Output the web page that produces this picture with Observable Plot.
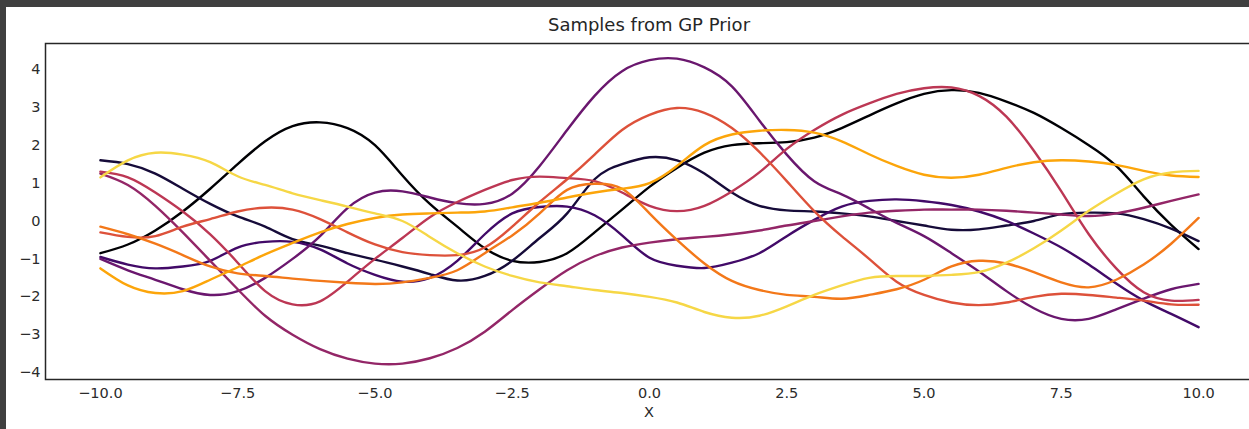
<!DOCTYPE html>
<html>
<head>
<meta charset="utf-8">
<script src="https://cdn.jsdelivr.net/npm/d3@7"></script>
<script src="https://cdn.jsdelivr.net/npm/@observablehq/plot@0.6"></script>
<style>
  html, body { margin: 0; padding: 0; width: 1249px; height: 429px; overflow: hidden; background: #3f3f3f; }
  #panel { position: absolute; left: 6px; top: 7px; width: 1254px; height: 422px; background: #fff; overflow: hidden;
           font-family: "DejaVu Sans", sans-serif; color: #262626; }
  #title { position: absolute; left: 39px; width: 1208px; top: 7px; text-align: center; font-size: 18px; line-height: 22px; }
  #chart { position: absolute; left: 0; top: 30px; }
  #xlabel { position: absolute; left: 39px; width: 1208px; top: 396px; text-align: center; font-size: 14.5px; line-height: 18px; }
</style>
</head>
<body>
<div id="panel">
  <div id="title">Samples from GP Prior</div>
  <div id="chart"></div>
  <div id="xlabel">X</div>
</div>
<script>
// Input grid shared by all prior draws
const xs = [-10, -9.5, -9, -8.5, -8, -7.5, -7, -6.5, -6, -5.5, -5, -4.5, -4, -3.5, -3, -2.5, -2, -1.5, -1, -0.5,
            0, 0.5, 1, 1.5, 2, 2.5, 3, 3.5, 4, 4.5, 5, 5.5, 6, 6.5, 7, 7.5, 8, 8.5, 9, 9.5, 10];

// Ten functions drawn from the GP prior, evaluated on xs
const sample1 = [-0.85, -0.62, -0.25, 0.25, 0.85, 1.5, 2.1, 2.5, 2.6, 2.45, 2.0, 1.2, 0.45, -0.15, -0.72, -1.05, -1.08, -0.85, -0.3, 0.3,
                 0.9, 1.4, 1.8, 2.0, 2.05, 2.08, 2.2, 2.45, 2.78, 3.1, 3.35, 3.45, 3.38, 3.15, 2.85, 2.45, 2.0, 1.45, 0.65, -0.1, -0.74];
const sample2 = [1.6, 1.5, 1.25, 0.85, 0.45, 0.12, -0.15, -0.48, -0.65, -0.85, -1.02, -1.2, -1.4, -1.57, -1.45, -1.05, -0.45, 0.2, 1.1, 1.5,
                 1.68, 1.6, 1.25, 0.75, 0.4, 0.28, 0.25, 0.2, 0.12, 0.0, -0.12, -0.23, -0.22, -0.12, 0.0, 0.18, 0.22, 0.2, 0.05, -0.2, -0.53];
const sample3 = [-0.95, -1.15, -1.25, -1.2, -1.05, -0.7, -0.55, -0.55, -0.75, -1.12, -1.42, -1.6, -1.5, -1.05, -0.35, 0.2, 0.37, 0.38, 0.15, -0.38,
                 -0.97, -1.18, -1.24, -1.1, -0.85, -0.4, 0.03, 0.38, 0.53, 0.57, 0.52, 0.42, 0.25, 0.0, -0.33, -0.7, -1.15, -1.65, -2.1, -2.45, -2.8];
const sample4 = [-1.0, -1.3, -1.55, -1.8, -1.95, -1.85, -1.5, -1.0, -0.4, 0.34, 0.75, 0.78, 0.62, 0.47, 0.45, 0.72, 1.45, 2.4, 3.3, 3.95,
                 4.24, 4.28, 4.05, 3.55, 2.65, 1.75, 1.05, 0.7, 0.33, -0.05, -0.4, -0.85, -1.33, -1.85, -2.3, -2.58, -2.58, -2.33, -2.05, -1.8, -1.66];
const sample5 = [1.25, 0.95, 0.4, -0.3, -1.05, -1.8, -2.5, -3.0, -3.38, -3.63, -3.76, -3.76, -3.62, -3.35, -2.92, -2.35, -1.8, -1.3, -0.93, -0.7,
                 -0.57, -0.48, -0.42, -0.35, -0.25, -0.12, 0.0, 0.12, 0.22, 0.27, 0.3, 0.3, 0.3, 0.27, 0.22, 0.17, 0.13, 0.2, 0.35, 0.53, 0.7];
const sample6 = [1.3, 1.15, 0.75, 0.25, -0.35, -1.1, -1.85, -2.2, -2.12, -1.6, -1.0, -0.45, 0.1, 0.5, 0.82, 1.08, 1.17, 1.13, 1.05, 0.75,
                 0.4, 0.26, 0.4, 0.78, 1.28, 1.9, 2.4, 2.8, 3.1, 3.35, 3.5, 3.52, 3.3, 2.75, 1.85, 0.78, -0.35, -1.25, -1.88, -2.1, -2.08];
const sample7 = [-0.3, -0.42, -0.4, -0.15, 0.05, 0.25, 0.35, 0.3, 0.05, -0.3, -0.62, -0.82, -0.9, -0.9, -0.7, -0.15, 0.5, 1.1, 1.75, 2.4,
                 2.8, 2.98, 2.85, 2.45, 1.82, 1.05, 0.26, -0.4, -1.0, -1.6, -1.95, -2.15, -2.22, -2.15, -2.0, -1.92, -1.95, -2.02, -2.1, -2.2, -2.21];
const sample8 = [-0.15, -0.35, -0.6, -0.9, -1.2, -1.38, -1.45, -1.52, -1.58, -1.63, -1.66, -1.62, -1.5, -1.3, -0.85, -0.38, 0.2, 0.82, 0.98, 0.85,
                 0.2, -0.5, -1.12, -1.58, -1.82, -1.95, -2.0, -2.05, -1.95, -1.8, -1.55, -1.2, -1.05, -1.12, -1.35, -1.62, -1.75, -1.55, -1.15, -0.6, 0.08];
const sample9 = [-1.25, -1.7, -1.9, -1.85, -1.55, -1.22, -0.88, -0.58, -0.3, -0.08, 0.08, 0.17, 0.2, 0.22, 0.25, 0.36, 0.48, 0.62, 0.75, 0.85,
                 1.0, 1.45, 2.0, 2.28, 2.38, 2.4, 2.33, 2.1, 1.76, 1.45, 1.22, 1.14, 1.22, 1.4, 1.55, 1.6, 1.57, 1.48, 1.32, 1.2, 1.16];
const sample10 = [1.15, 1.6, 1.8, 1.75, 1.55, 1.18, 0.95, 0.73, 0.55, 0.38, 0.2, 0.0, -0.42, -0.85, -1.2, -1.45, -1.62, -1.72, -1.82, -1.9,
                  -2.0, -2.15, -2.4, -2.55, -2.5, -2.25, -1.95, -1.7, -1.5, -1.45, -1.45, -1.42, -1.35, -1.1, -0.72, -0.25, 0.27, 0.72, 1.1, 1.28, 1.32];

const sampleNames = ["s1", "s2", "s3", "s4", "s5", "s6", "s7", "s8", "s9", "s10"];
const sampleValues = [sample1, sample2, sample3, sample4, sample5, sample6, sample7, sample8, sample9, sample10];

// Axis ticks and their labels
const xTicks = [-10, -7.5, -5, -2.5, 0, 2.5, 5, 7.5, 10];
const xTickLabels = ["\u221210.0", "\u22127.5", "\u22125.0", "\u22122.5", "0.0", "2.5", "5.0", "7.5", "10.0"];
const yTicks = [-4, -3, -2, -1, 0, 1, 2, 3, 4];
const yTickLabels = ["\u22124", "\u22123", "\u22122", "\u22121", "0", "1", "2", "3", "4"];

// Long-format table for the line mark
const rows = [];
sampleNames.forEach((name, i) => {
  sampleValues[i].forEach((y, j) => rows.push({sample: name, x: xs[j], y}));
});

// Inferno colours, stepping 0 → 0.9 across the draws
const lineColors = sampleNames.map((_, i) => d3.interpolateInferno(i / 10));

const chart = Plot.plot({
  width: 1254,
  height: 365,
  marginTop: 6,
  marginBottom: 23,
  marginLeft: 39,
  marginRight: 7,
  style: {fontFamily: "DejaVu Sans, sans-serif", fontSize: "14.5px", color: "#2b2b2b", background: "transparent"},
  x: {domain: [-11, 11]},
  y: {domain: [-4.18, 4.68]},
  color: {domain: sampleNames, range: lineColors},
  marks: [
    Plot.line(rows, {x: "x", y: "y", z: "sample", stroke: "sample", strokeWidth: 2.4, curve: "natural"}),
    Plot.frame({stroke: "#262626", strokeWidth: 1.5}),
    Plot.axisX({ticks: xTicks, tickFormat: d => xTickLabels[xTicks.indexOf(d)], tickSize: 0, tickPadding: 8.5, label: null}),
    Plot.axisY({ticks: yTicks, tickFormat: d => yTickLabels[yTicks.indexOf(d)], tickSize: 0, tickPadding: 5, label: null})
  ]
});
document.getElementById("chart").appendChild(chart);
</script>
</body>
</html>
